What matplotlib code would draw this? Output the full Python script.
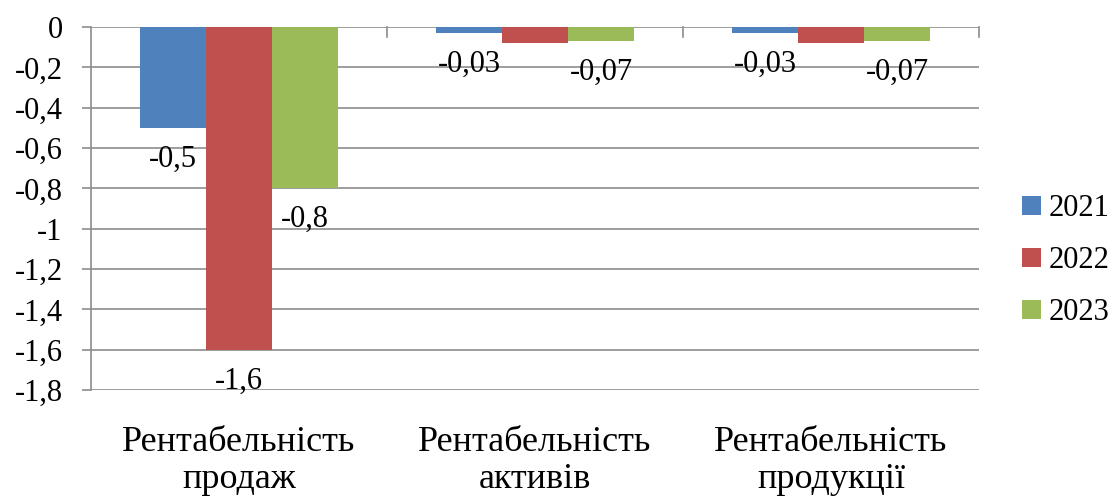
import matplotlib.pyplot as plt
import numpy as np

plt.rcParams['font.family'] = ['Liberation Serif', 'DejaVu Serif']

categories = ["Рентабельність\nпродаж", "Рентабельність\nактивів", "Рентабельність\nпродукції"]
years = ["2021", "2022", "2023"]
v2021 = [-0.5, -0.03, -0.03]
v2022 = [-1.6, -0.08, -0.08]
v2023 = [-0.8, -0.07, -0.07]
shown_2022 = [True, False, False]
colors = ['#4f81bd', '#c0504d', '#9bbb59']
yticks = np.round(np.arange(-1.8, 0.01, 0.2), 1)


def comma(v):
    s = f"{v:g}".replace('.', ',')
    return '0' if s == '-0' else s


fig = plt.figure(figsize=(11.19, 4.97), dpi=100)
ax = fig.add_axes([91 / 1119, 1 - 390 / 497, (979 - 91) / 1119, (390 - 27) / 497])

x = np.arange(len(categories))
w = 0.223
series = [v2021, v2022, v2023]
for i, (vals, col) in enumerate(zip(series, colors)):
    pos = x + (i - 1) * w
    ax.bar(pos, vals, w, color=col, label=years[i], zorder=3)
    for j, (p, v) in enumerate(zip(pos, vals)):
        if i == 1 and not shown_2022[j]:
            continue
        ax.annotate(comma(v), (p, v), xytext=(0, -12),
                    textcoords='offset points', ha='center', va='top', fontsize=22)

ax.set_xlim(-0.5, 2.5)
ax.set_ylim(-1.8, 0)
ax.set_yticks(yticks)
ax.set_yticklabels([comma(t) for t in yticks], fontsize=22)
ax.yaxis.grid(True, color='#8c8c8c', linewidth=1.2, zorder=0)
ax.tick_params(axis='y', length=6.5, width=1.2, color='#8c8c8c', pad=14)

for s in ['top', 'right', 'bottom']:
    ax.spines[s].set_visible(False)
ax.spines['left'].set_color('#8c8c8c')
ax.spines['left'].set_linewidth(1.2)

# category axis sits at zero with tick marks between groups
ax.set_xticks([])
for b in [0.5, 1.5, 2.5]:
    ax.plot([b, b], [0, -0.05], color='#8c8c8c', lw=1.2, clip_on=False, zorder=4)
for xi, c in zip(x, categories):
    ax.annotate(c, (xi, -1.8), xytext=(0, -26), textcoords='offset points',
                ha='center', va='top', fontsize=26, linespacing=1.15)

ax.legend(loc='center left', bbox_to_anchor=(1.035, 0.356), frameon=False,
          fontsize=22, handlelength=0.6, handleheight=0.6, handletextpad=0.25,
          labelspacing=0.75, borderaxespad=0)

fig.savefig("out.png", dpi=100)
